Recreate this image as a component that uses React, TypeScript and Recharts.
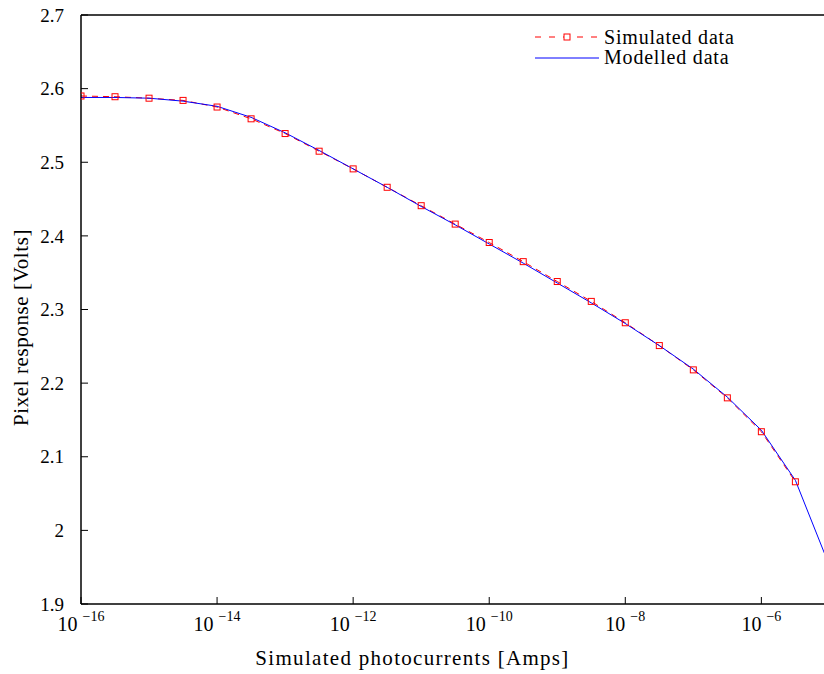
import React from "react";
import { Line, LineChart, Legend, XAxis, YAxis } from "recharts";

// log10 of photocurrent [A]
const exponents = [
  -16, -15.5, -15, -14.5, -14, -13.5, -13, -12.5, -12, -11.5, -11, -10.5,
  -10, -9.5, -9, -8.5, -8, -7.5, -7, -6.5, -6, -5.5, -5,
];
const simulated = [
  2.59, 2.589, 2.587, 2.584, 2.575, 2.559, 2.539, 2.515, 2.491, 2.466, 2.441,
  2.416, 2.391, 2.365, 2.338, 2.311, 2.282, 2.251, 2.218, 2.18, 2.134, 2.066,
  null,
];
const modelled = [
  2.588, 2.588, 2.587, 2.583, 2.576, 2.561, 2.54, 2.516, 2.491, 2.466, 2.44,
  2.415, 2.389, 2.363, 2.336, 2.309, 2.281, 2.251, 2.219, 2.181, 2.136, 2.068,
  1.952,
];
const xTicks = [-16, -14, -12, -10, -8, -6];
const yTicks = [1.9, 2.0, 2.1, 2.2, 2.3, 2.4, 2.5, 2.6, 2.7];

const data = exponents.map((e, i) => ({ e, sim: simulated[i], model: modelled[i] }));

const FONT = "'Liberation Serif', serif";
const RED = "#ff0000";
const BLUE = "#0000ff";
const AXIS = { stroke: "#000", strokeWidth: 1.5 };

function PowerTick({ x, y, payload }: any) {
  return (
    <text x={x} y={y + 27} textAnchor="middle" fontFamily={FONT} fontSize={20} fill="#000">
      <tspan>10</tspan>
      <tspan dx={5} dy={-10} fontSize={14}>
        {"\u2212" + Math.abs(payload.value)}
      </tspan>
    </text>
  );
}

function XLabel({ viewBox }: any) {
  const cx = viewBox.x + viewBox.width / 2 - 41;
  return (
    <text x={cx} y={665} textAnchor="middle" fontFamily={FONT} fontSize={21} letterSpacing={1.3} fill="#000">
      Simulated photocurrents [Amps]
    </text>
  );
}

function YLabel({ viewBox }: any) {
  const cy = viewBox.y + viewBox.height / 2 + 18;
  return (
    <text
      transform={`translate(21, ${cy}) rotate(-90)`}
      textAnchor="middle"
      dominantBaseline="central"
      fontFamily={FONT}
      fontSize={21}
      letterSpacing={0.6}
      fill="#000"
    >
      Pixel response [Volts]
    </text>
  );
}

function SquareDot({ cx, cy }: any) {
  if (cx == null || cy == null) return null;
  return <rect x={cx - 3} y={cy - 3} width={6} height={6} fill="none" stroke={RED} strokeWidth={1} />;
}

function LegendBox() {
  return (
    <svg width={230} height={56} style={{ display: "block" }}>
      <line x1={0} y1={15} x2={64} y2={15} stroke={RED} strokeDasharray="6 8" />
      <rect x={29} y={12} width={6} height={6} fill="#fff" stroke={RED} />
      <text x={69} y={22} fontFamily={FONT} fontSize={20} letterSpacing={0.8}>Simulated data</text>
      <line x1={0} y1={36} x2={64} y2={36} stroke={BLUE} />
      <text x={69} y={42} fontFamily={FONT} fontSize={20} letterSpacing={0.8}>Modelled data</text>
    </svg>
  );
}

export default function App() {
  return (
    <div style={{ width: 824, height: 674, overflow: "hidden", background: "#fff" }}>
      <style>{"html, body { margin: 0; padding: 0; overflow: hidden; }"}</style>
      <LineChart width={848} height={674} data={data} margin={{ top: 14, right: 21, left: 0, bottom: 0 }}>
        <XAxis
          xAxisId="bottom"
          dataKey="e"
          type="number"
          domain={[-16, -5.05]}
          allowDataOverflow
          ticks={xTicks}
          interval={0}
          height={70}
          tickSize={-7}
          tickMargin={7}
          tick={<PowerTick />}
          axisLine={AXIS}
          tickLine={{ stroke: "#000" }}
          label={<XLabel />}
        />
        <XAxis
          xAxisId="top"
          dataKey="e"
          type="number"
          orientation="top"
          domain={[-16, -5.05]}
          allowDataOverflow
          ticks={xTicks}
          interval={0}
          height={1}
          tickSize={-7}
          tick={false}
          axisLine={AXIS}
          tickLine={{ stroke: "#000" }}
        />
        <YAxis
          yAxisId="left"
          domain={[1.9, 2.7]}
          ticks={yTicks}
          interval={0}
          width={81}
          tickSize={-7}
          tickMargin={24}
          tickFormatter={(v: number) => String(Number(v.toFixed(1)))}
          tick={{ fontFamily: FONT, fontSize: 19, fill: "#000" }}
          axisLine={AXIS}
          tickLine={{ stroke: "#000" }}
          label={<YLabel />}
        />
        <YAxis
          yAxisId="right"
          orientation="right"
          domain={[1.9, 2.7]}
          ticks={yTicks}
          interval={0}
          width={1}
          tickSize={-7}
          tick={false}
          axisLine={AXIS}
          tickLine={{ stroke: "#000" }}
        />
        <Line
          xAxisId="bottom"
          yAxisId="left"
          dataKey="sim"
          stroke={RED}
          strokeWidth={1}
          strokeDasharray="6 5"
          dot={<SquareDot />}
          activeDot={false}
          connectNulls={false}
          isAnimationActive={false}
        />
        <Line
          xAxisId="bottom"
          yAxisId="left"
          dataKey="model"
          stroke={BLUE}
          strokeWidth={1}
          dot={false}
          activeDot={false}
          isAnimationActive={false}
        />
        <Legend
          layout="vertical"
          verticalAlign="middle"
          align="center"
          content={<LegendBox />}
          wrapperStyle={{ position: "absolute", left: 535, top: 22, width: 230, margin: 0 }}
        />
      </LineChart>
    </div>
  );
}
